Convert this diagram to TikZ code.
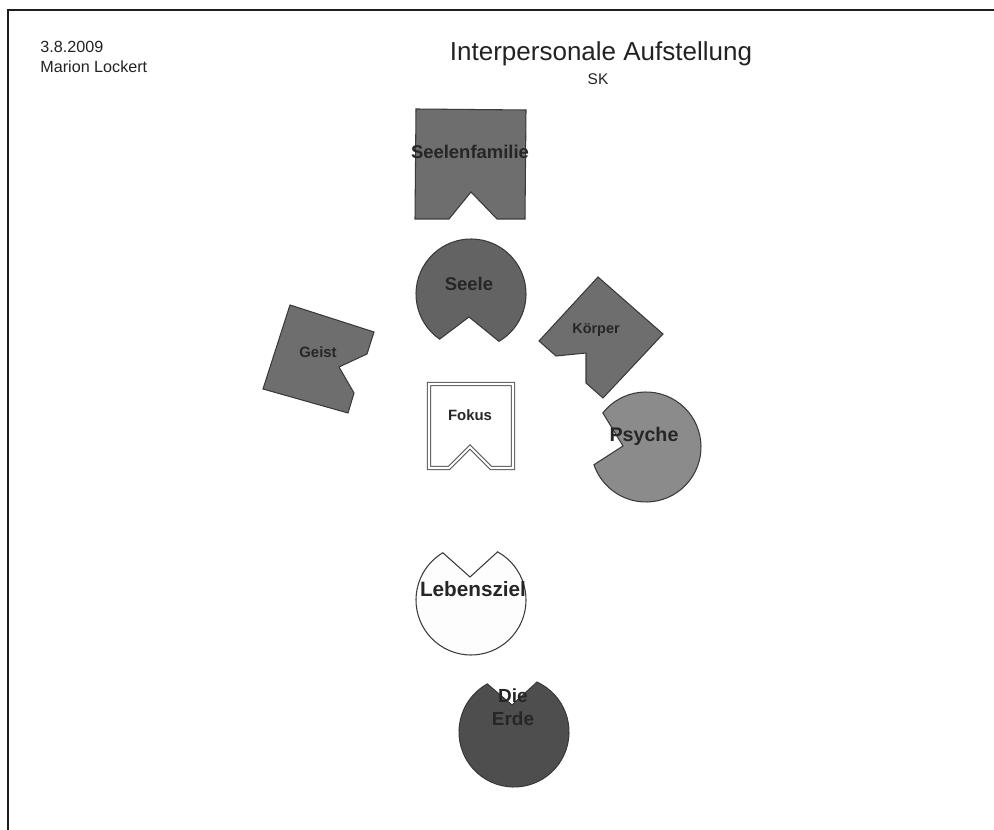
\documentclass[tikz,border=0pt]{standalone}
\usepackage{fontspec}
\setmainfont{Liberation Sans}
\usetikzlibrary{calc}
\definecolor{boardInk}{HTML}{222222}
\definecolor{boardFrame}{HTML}{1E1E1E}
\definecolor{figLine}{HTML}{3A3A3A}
\definecolor{figText}{HTML}{262626}
\definecolor{figMid}{HTML}{6E6E6E}
\definecolor{figSoul}{HTML}{636363}
\definecolor{figLight}{HTML}{8B8B8B}
\definecolor{figDark}{HTML}{4E4E4E}
\definecolor{figWhite}{HTML}{FDFDFD}
\definecolor{focusLine}{HTML}{555555}

\begin{document}
\begin{tikzpicture}[
  x=0.02cm,
  y=-0.02cm,
  boardframe/.style={draw=boardFrame, line width=1.6pt},
  headtext/.style={text=boardInk, inner sep=0pt},
  piece/.style={draw=figLine, line width=0.6pt, line join=miter},
  tag/.style={text=figText, inner sep=0pt, align=center},
  focusbox/.style={draw=focusLine, line width=0.6pt, double=white, double distance=1.2pt}
]
\useasboundingbox (0,0) rectangle (994,830);
\draw[boardframe] (8,830) -- (8,10) -- (994,10);

% header
\node[headtext, anchor=west, font=\fontsize{9.2}{11}\selectfont] (date) at (40,47) {3.8.2009};
\node[headtext, anchor=west, font=\fontsize{9.2}{11}\selectfont] (author) at (40,67) {Marion Lockert};
\node[headtext, font=\fontsize{14.8}{17}\selectfont] (title) at (601,54) {Interpersonale Aufstellung};
\node[headtext, font=\fontsize{8.8}{10}\selectfont] (subtitle) at (598,79) {SK};

% notched squares
\draw[piece, fill=figMid] (416,109) -- (526,110) -- (525,219) -- (497,219) -- (471,192) -- (449,219) -- (415,219) -- cycle;
\node[tag, font=\fontsize{10.5}{12}\selectfont\bfseries] (seelenfamilie) at (470,152) {Seelenfamilie};

\draw[piece, fill=figMid] (598,277) -- (663,334) -- (603,398) -- (586,383) -- (586,353) -- (556,356) -- (539,341) -- cycle;
\node[tag, font=\fontsize{8.2}{10}\selectfont\bfseries] (koerper) at (596,330) {Körper};

\draw[piece, fill=figMid] (290,305) -- (374,332) -- (367,354) -- (339,367) -- (354,393) -- (348,413) -- (263,389) -- cycle;
\node[tag, font=\fontsize{8.5}{10}\selectfont\bfseries] (geist) at (318,352) {Geist};

\draw[focusbox, fill=white] (429,384) -- (513,384) -- (513,468) -- (491,468) -- (470,447) -- (449,468) -- (429,468) -- cycle;
\node[tag, font=\fontsize{8.5}{10}\selectfont\bfseries] (fokus) at (470,415) {Fokus};

% notched circles
\draw[piece, fill=figSoul] (469,317) -- ($(471,294)+(124.8:55)$) arc[start angle=124.8, end angle=419.4, radius=55] -- cycle;
\node[tag, font=\fontsize{10.5}{12}\selectfont\bfseries] (seele) at (469,284) {Seele};

\draw[piece, fill=figLight] (623,446) -- ($(646,447)+(218.3:55)$) arc[start angle=218.3, end angle=521.2, radius=55] -- cycle;
\node[tag, font=\fontsize{11.2}{13}\selectfont\bfseries] (psyche) at (644,436) {Psyche};

\draw[piece, fill=figWhite] (470,577) -- ($(471,600)+(298.9:55)$) arc[start angle=298.9, end angle=599.2, radius=55] -- cycle;
\node[tag, font=\fontsize{11.8}{13}\selectfont\bfseries] (lebensziel) at (473,589) {Lebensziel};

\draw[piece, fill=figDark] (512,705) -- ($(514,732)+(294.7:55)$) arc[start angle=294.7, end angle=601, radius=55] -- cycle;
\node[tag, font=\fontsize{10.8}{13}\selectfont\bfseries] (erde) at (513,707) {Die\\Erde};
\end{tikzpicture}
\end{document}
